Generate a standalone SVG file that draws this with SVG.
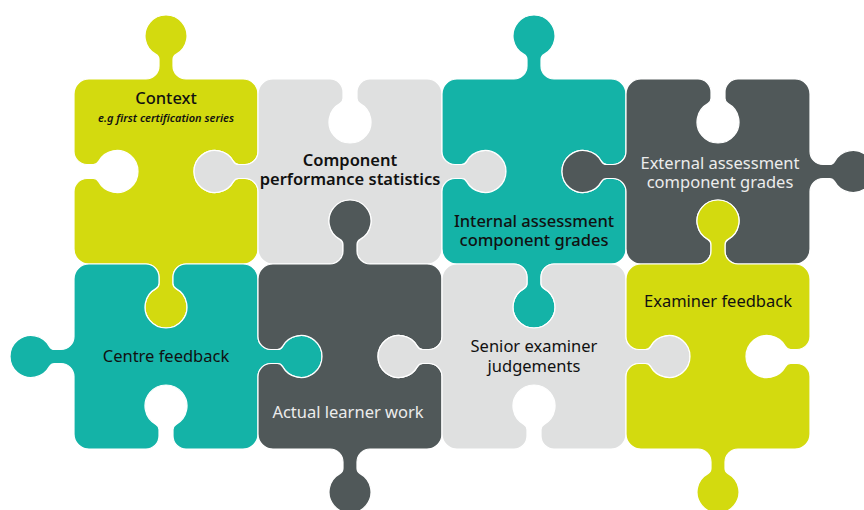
<svg xmlns="http://www.w3.org/2000/svg" width="864" height="510" viewBox="0 0 864 510">
<style>
.p{stroke:#fff;stroke-width:1.2}
.y{fill:#d3da0f}
.t{fill:#14b3a7}
.d{fill:#505859}
.l{fill:#dfe0e0}
text{font-family:"Noto Sans","Open Sans","Liberation Sans",sans-serif;font-size:16.5px;text-anchor:middle;fill:#111}
.w{fill:#ececec}
.b{font-weight:600}
.m{font-weight:500}
.s{font-size:11px;font-style:italic;font-weight:600}
</style>
<rect width="864" height="510" fill="#fff"/>
<g id="connectors"/>
<g id="context">
<path class="p y" d="M89 79 H146 a13 13 0 0 0 13 -13 l0 -6.34 a6 6 0 0 0 -3.11 -5.26 a21 21 0 1 1 20.22 0 a6 6 0 0 0 -3.11 5.26 l0 6.34 a13 13 0 0 0 13 13 H243 A15 15 0 0 1 258 94 V151.5 a13 13 0 0 1 -13 13 l-6.34 0 a6 6 0 0 1 -5.26 -3.11 a21 21 0 1 0 0 20.22 a6 6 0 0 1 5.26 -3.11 l6.34 0 a13 13 0 0 1 13 13 V249 A15 15 0 0 1 243 264 H186 a13 13 0 0 0 -13 13 l0 6.34 a6 6 0 0 0 3.11 5.26 a21 21 0 1 1 -20.22 0 a6 6 0 0 0 3.11 -5.26 l0 -6.34 a13 13 0 0 0 -13 -13 H89 A15 15 0 0 1 74 249 V191.5 a13 13 0 0 1 13 -13 l6.34 0 a6 6 0 0 1 5.26 3.11 a21 21 0 1 0 0 -20.22 a6 6 0 0 1 -5.26 3.11 l-6.34 0 a13 13 0 0 1 -13 -13 V94 A15 15 0 0 1 89 79 Z"/>
<text class="m" x="166" y="104">Context</text>
<text class="s" x="166" y="122">e.g first certification series</text>
</g>
<g id="component-stats">
<path class="p l" d="M273 79 H330 a13 13 0 0 1 13 13 l0 6.34 a6 6 0 0 1 -3.11 5.26 a21 21 0 1 0 20.22 0 a6 6 0 0 1 -3.11 -5.26 l0 -6.34 a13 13 0 0 1 13 -13 H427 A15 15 0 0 1 442 94 V151.5 a13 13 0 0 0 13 13 l6.34 0 a6 6 0 0 0 5.26 -3.11 a21 21 0 1 1 0 20.22 a6 6 0 0 0 -5.26 -3.11 l-6.34 0 a13 13 0 0 0 -13 13 V249 A15 15 0 0 1 427 264 H370 a13 13 0 0 1 -13 -13 l0 -6.34 a6 6 0 0 1 3.11 -5.26 a21 21 0 1 0 -20.22 0 a6 6 0 0 1 3.11 5.26 l0 6.34 a13 13 0 0 1 -13 13 H273 A15 15 0 0 1 258 249 V191.5 a13 13 0 0 0 -13 -13 l-6.34 0 a6 6 0 0 0 -5.26 3.11 a21 21 0 1 1 0 -20.22 a6 6 0 0 0 5.26 3.11 l6.34 0 a13 13 0 0 0 13 -13 V94 A15 15 0 0 1 273 79 Z"/>
<text class="b" x="350" y="166">Component</text>
<text class="b" x="350" y="185">performance statistics</text>
</g>
<g id="internal-grades">
<path class="p t" d="M457 79 H514 a13 13 0 0 0 13 -13 l0 -6.34 a6 6 0 0 0 -3.11 -5.26 a21 21 0 1 1 20.22 0 a6 6 0 0 0 -3.11 5.26 l0 6.34 a13 13 0 0 0 13 13 H611 A15 15 0 0 1 626 94 V151.5 a13 13 0 0 1 -13 13 l-6.34 0 a6 6 0 0 1 -5.26 -3.11 a21 21 0 1 0 0 20.22 a6 6 0 0 1 5.26 -3.11 l6.34 0 a13 13 0 0 1 13 13 V249 A15 15 0 0 1 611 264 H554 a13 13 0 0 0 -13 13 l0 6.34 a6 6 0 0 0 3.11 5.26 a21 21 0 1 1 -20.22 0 a6 6 0 0 0 3.11 -5.26 l0 -6.34 a13 13 0 0 0 -13 -13 H457 A15 15 0 0 1 442 249 V191.5 a13 13 0 0 1 13 -13 l6.34 0 a6 6 0 0 1 5.26 3.11 a21 21 0 1 0 0 -20.22 a6 6 0 0 1 -5.26 3.11 l-6.34 0 a13 13 0 0 1 -13 -13 V94 A15 15 0 0 1 457 79 Z"/>
<text class="m" x="534" y="227">Internal assessment</text>
<text class="m" x="534" y="246">component grades</text>
</g>
<g id="external-grades">
<path class="p d" d="M641 79 H698 a13 13 0 0 1 13 13 l0 6.34 a6 6 0 0 1 -3.11 5.26 a21 21 0 1 0 20.22 0 a6 6 0 0 1 -3.11 -5.26 l0 -6.34 a13 13 0 0 1 13 -13 H795 A15 15 0 0 1 810 94 V151.5 a13 13 0 0 0 13 13 l6.34 0 a6 6 0 0 0 5.26 -3.11 a21 21 0 1 1 0 20.22 a6 6 0 0 0 -5.26 -3.11 l-6.34 0 a13 13 0 0 0 -13 13 V249 A15 15 0 0 1 795 264 H738 a13 13 0 0 1 -13 -13 l0 -6.34 a6 6 0 0 1 3.11 -5.26 a21 21 0 1 0 -20.22 0 a6 6 0 0 1 3.11 5.26 l0 6.34 a13 13 0 0 1 -13 13 H641 A15 15 0 0 1 626 249 V191.5 a13 13 0 0 0 -13 -13 l-6.34 0 a6 6 0 0 0 -5.26 3.11 a21 21 0 1 1 0 -20.22 a6 6 0 0 0 5.26 3.11 l6.34 0 a13 13 0 0 0 13 -13 V94 A15 15 0 0 1 641 79 Z"/>
<text class="w" x="720" y="169">External assessment</text>
<text class="w" x="720" y="188">component grades</text>
</g>
<g id="centre-feedback">
<path class="p t" d="M89 264 H146 a13 13 0 0 1 13 13 l0 6.34 a6 6 0 0 1 -3.11 5.26 a21 21 0 1 0 20.22 0 a6 6 0 0 1 -3.11 -5.26 l0 -6.34 a13 13 0 0 1 13 -13 H243 A15 15 0 0 1 258 279 V336.5 a13 13 0 0 0 13 13 l6.34 0 a6 6 0 0 0 5.26 -3.11 a21 21 0 1 1 0 20.22 a6 6 0 0 0 -5.26 -3.11 l-6.34 0 a13 13 0 0 0 -13 13 V434 A15 15 0 0 1 243 449 H186 a13 13 0 0 1 -13 -13 l0 -6.34 a6 6 0 0 1 3.11 -5.26 a21 21 0 1 0 -20.22 0 a6 6 0 0 1 3.11 5.26 l0 6.34 a13 13 0 0 1 -13 13 H89 A15 15 0 0 1 74 434 V376.5 a13 13 0 0 0 -13 -13 l-6.34 0 a6 6 0 0 0 -5.26 3.11 a21 21 0 1 1 0 -20.22 a6 6 0 0 0 5.26 3.11 l6.34 0 a13 13 0 0 0 13 -13 V279 A15 15 0 0 1 89 264 Z"/>
<text x="166" y="362">Centre feedback</text>
</g>
<g id="actual-learner-work">
<path class="p d" d="M273 264 H330 a13 13 0 0 0 13 -13 l0 -6.34 a6 6 0 0 0 -3.11 -5.26 a21 21 0 1 1 20.22 0 a6 6 0 0 0 -3.11 5.26 l0 6.34 a13 13 0 0 0 13 13 H427 A15 15 0 0 1 442 279 V336.5 a13 13 0 0 1 -13 13 l-6.34 0 a6 6 0 0 1 -5.26 -3.11 a21 21 0 1 0 0 20.22 a6 6 0 0 1 5.26 -3.11 l6.34 0 a13 13 0 0 1 13 13 V434 A15 15 0 0 1 427 449 H370 a13 13 0 0 0 -13 13 l0 6.34 a6 6 0 0 0 3.11 5.26 a21 21 0 1 1 -20.22 0 a6 6 0 0 0 3.11 -5.26 l0 -6.34 a13 13 0 0 0 -13 -13 H273 A15 15 0 0 1 258 434 V376.5 a13 13 0 0 1 13 -13 l6.34 0 a6 6 0 0 1 5.26 3.11 a21 21 0 1 0 0 -20.22 a6 6 0 0 1 -5.26 3.11 l-6.34 0 a13 13 0 0 1 -13 -13 V279 A15 15 0 0 1 273 264 Z"/>
<text class="w" x="348" y="418">Actual learner work</text>
</g>
<g id="senior-examiner">
<path class="p l" d="M457 264 H514 a13 13 0 0 1 13 13 l0 6.34 a6 6 0 0 1 -3.11 5.26 a21 21 0 1 0 20.22 0 a6 6 0 0 1 -3.11 -5.26 l0 -6.34 a13 13 0 0 1 13 -13 H611 A15 15 0 0 1 626 279 V336.5 a13 13 0 0 0 13 13 l6.34 0 a6 6 0 0 0 5.26 -3.11 a21 21 0 1 1 0 20.22 a6 6 0 0 0 -5.26 -3.11 l-6.34 0 a13 13 0 0 0 -13 13 V434 A15 15 0 0 1 611 449 H554 a13 13 0 0 1 -13 -13 l0 -6.34 a6 6 0 0 1 3.11 -5.26 a21 21 0 1 0 -20.22 0 a6 6 0 0 1 3.11 5.26 l0 6.34 a13 13 0 0 1 -13 13 H457 A15 15 0 0 1 442 434 V376.5 a13 13 0 0 0 -13 -13 l-6.34 0 a6 6 0 0 0 -5.26 3.11 a21 21 0 1 1 0 -20.22 a6 6 0 0 0 5.26 3.11 l6.34 0 a13 13 0 0 0 13 -13 V279 A15 15 0 0 1 457 264 Z"/>
<text x="534" y="352">Senior examiner</text>
<text x="534" y="372">judgements</text>
</g>
<g id="examiner-feedback">
<path class="p y" d="M641 264 H698 a13 13 0 0 0 13 -13 l0 -6.34 a6 6 0 0 0 -3.11 -5.26 a21 21 0 1 1 20.22 0 a6 6 0 0 0 -3.11 5.26 l0 6.34 a13 13 0 0 0 13 13 H795 A15 15 0 0 1 810 279 V336.5 a13 13 0 0 1 -13 13 l-6.34 0 a6 6 0 0 1 -5.26 -3.11 a21 21 0 1 0 0 20.22 a6 6 0 0 1 5.26 -3.11 l6.34 0 a13 13 0 0 1 13 13 V434 A15 15 0 0 1 795 449 H738 a13 13 0 0 0 -13 13 l0 6.34 a6 6 0 0 0 3.11 5.26 a21 21 0 1 1 -20.22 0 a6 6 0 0 0 3.11 -5.26 l0 -6.34 a13 13 0 0 0 -13 -13 H641 A15 15 0 0 1 626 434 V376.5 a13 13 0 0 1 13 -13 l6.34 0 a6 6 0 0 1 5.26 3.11 a21 21 0 1 0 0 -20.22 a6 6 0 0 1 -5.26 3.11 l-6.34 0 a13 13 0 0 1 -13 -13 V279 A15 15 0 0 1 641 264 Z"/>
<text x="718" y="307">Examiner feedback</text>
</g>
</svg>
